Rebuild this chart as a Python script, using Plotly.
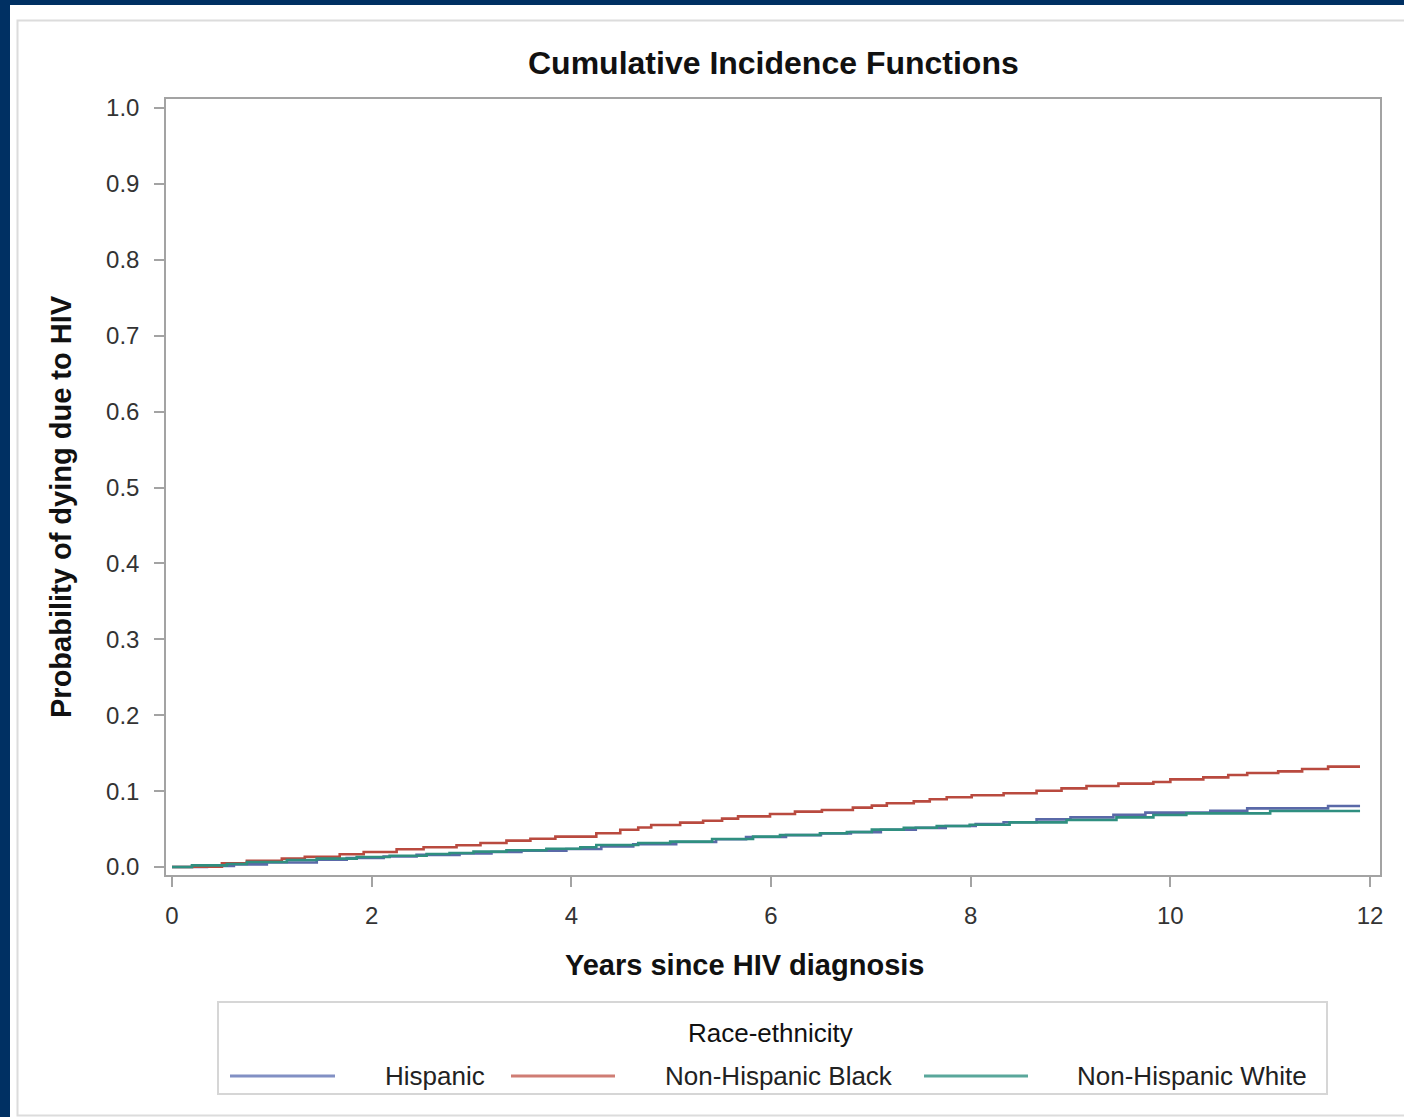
import plotly.graph_objects as go

# ---------------- data ----------------
group_names = ["Hispanic", "Non-Hispanic Black", "Non-Hispanic White"]

hisp_t = [0, 0.35, 0.62, 0.95, 1.45, 1.75, 2.12, 2.45, 2.88, 3.2, 3.5, 3.95, 4.3, 4.62, 5.05, 5.45, 5.75,
          6.15, 6.5, 6.8, 7.1, 7.45, 7.75, 8.05, 8.33, 8.66, 9.0, 9.43, 9.75, 10.4, 10.77, 11.58, 11.9]
hisp_v = [0, 0.0015, 0.0035, 0.006, 0.0095, 0.0118, 0.0138, 0.016, 0.018, 0.0198, 0.0215, 0.0238, 0.027,
          0.030, 0.033, 0.0365, 0.0395, 0.042, 0.0442, 0.046, 0.049, 0.0516, 0.054, 0.0565, 0.059, 0.0628,
          0.0654, 0.0689, 0.0716, 0.0742, 0.0773, 0.0804, 0.0804]

black_t = [0, 0.20, 0.50, 0.75, 1.10, 1.33, 1.68, 1.92, 2.25, 2.52, 2.85, 3.09, 3.35, 3.59, 3.84, 4.25,
           4.49, 4.67, 4.80, 5.09, 5.32, 5.51, 5.67, 5.99, 6.24, 6.51, 6.82, 7.01, 7.16, 7.43, 7.59, 7.76,
           8.01, 8.33, 8.66, 8.91, 9.16, 9.48, 9.83, 10.0, 10.33, 10.58, 10.77, 11.08, 11.32, 11.58, 11.9]
black_v = [0, 0.0005, 0.0048, 0.0083, 0.011, 0.0136, 0.0167, 0.0198, 0.0233, 0.026, 0.0286, 0.0316, 0.0347,
           0.0373, 0.040, 0.0445, 0.049, 0.052, 0.0553, 0.0584, 0.061, 0.0637, 0.0667, 0.0698, 0.0729,
           0.0751, 0.0782, 0.0808, 0.0839, 0.0865, 0.0892, 0.0918, 0.0945, 0.0971, 0.1005, 0.1036, 0.1067,
           0.1098, 0.112, 0.1155, 0.1181, 0.1212, 0.1238, 0.126, 0.1291, 0.1322, 0.1322]

white_t = [0, 0.20, 0.55, 0.75, 1.15, 1.45, 1.85, 2.18, 2.55, 2.78, 3.02, 3.35, 3.75, 4.09, 4.25, 4.67,
           4.99, 5.41, 5.82, 6.09, 6.49, 6.76, 7.01, 7.33, 7.66, 7.99, 8.39, 8.96, 9.46, 9.83, 10.16, 11.0, 11.9]
white_v = [0, 0.0022, 0.004, 0.0066, 0.0092, 0.011, 0.0132, 0.0149, 0.0171, 0.0184, 0.0202, 0.022, 0.0241,
           0.026, 0.029, 0.0316, 0.0334, 0.0369, 0.040, 0.0422, 0.0444, 0.0461, 0.0492, 0.0518, 0.054,
           0.0557, 0.0588, 0.0619, 0.0654, 0.0685, 0.0707, 0.0738, 0.0738]

x_ticks = [0, 2, 4, 6, 8, 10, 12]
y_ticks = [0.0, 0.1, 0.2, 0.3, 0.4, 0.5, 0.6, 0.7, 0.8, 0.9, 1.0]
y_tick_labels = ["0.0", "0.1", "0.2", "0.3", "0.4", "0.5", "0.6", "0.7", "0.8", "0.9", "1.0"]

colors = ["#5a69a8", "#b94a3f", "#2f8f80"]
legend_colors = ["#8290c4", "#cf7d74", "#5aa79b"]

# ---------------- figure ----------------
W, H = 1404, 1117
L, R, T, B = 166, 1380, 99, 875  # plot area in pixels
pw, ph = R - L, B - T

def px(x):
    return (x - L) / pw

def py(y):
    return (B - y) / ph

fig = go.Figure()
for name, t, v, c in zip(group_names, [hisp_t, black_t, white_t], [hisp_v, black_v, white_v], colors):
    fig.add_trace(go.Scatter(x=t, y=v, mode="lines", name=name, line=dict(color=c, width=2.6, shape="hv"),
                             showlegend=False))

font = "Liberation Sans, Arial, sans-serif"
axis_common = dict(showline=True, mirror=True, linecolor="#a3a3a3", linewidth=1.5, showgrid=False,
                   zeroline=False, ticks="outside", ticklen=10, tickcolor="#a3a3a3", tickwidth=1.5,
                   tickfont=dict(family=font, size=24, color="#333333"))

fig.update_layout(
    width=W, height=H,
    margin=dict(l=L, r=W - R, t=T, b=H - B, pad=0),
    paper_bgcolor="#003063",
    plot_bgcolor="white",
    xaxis=dict(range=[-0.0601, 12.10], tickvals=x_ticks, ticktext=[str(v) for v in x_ticks],
               ticklabelstandoff=8, **axis_common),
    yaxis=dict(range=[-0.01054, 1.01186], tickvals=y_ticks, ticktext=y_tick_labels,
               ticklabelstandoff=10, **axis_common),
    showlegend=False,
)

shapes = [
    # white page area
    dict(type="rect", xref="paper", yref="paper", x0=px(10), x1=px(1404), y0=py(1117), y1=py(5),
         fillcolor="white", line=dict(width=0), layer="below"),
    # outer light frame
    dict(type="rect", xref="paper", yref="paper", x0=px(17.5), x1=px(1420), y0=py(1115.5), y1=py(20.5),
         fillcolor="rgba(0,0,0,0)", line=dict(color="#dcdcdc", width=2), layer="below"),
    # legend box
    dict(type="rect", xref="paper", yref="paper", x0=px(218), x1=px(1327), y0=py(1094), y1=py(1002),
         fillcolor="white", line=dict(color="#d6d6d6", width=2), layer="below"),
]

annotations = [
    dict(text="<b>Cumulative Incidence Functions</b>", xref="paper", yref="paper", x=px(773), y=py(63),
         xanchor="center", yanchor="middle", showarrow=False,
         font=dict(family=font, size=32, color="#111111")),
    dict(text="<b>Years since HIV diagnosis</b>", xref="paper", yref="paper", x=px(744), y=py(965),
         xanchor="center", yanchor="middle", showarrow=False,
         font=dict(family=font, size=29, color="#111111")),
    dict(text="<b>Probability of dying due to HIV</b>", xref="paper", yref="paper", x=px(61), y=py(507),
         xanchor="center", yanchor="middle", showarrow=False, textangle=-90,
         font=dict(family=font, size=29, color="#111111")),
    dict(text="Race-ethnicity", xref="paper", yref="paper", x=px(770), y=py(1033),
         xanchor="center", yanchor="middle", showarrow=False,
         font=dict(family=font, size=26, color="#111111")),
]

legend_line_x = [(230, 335), (511, 615), (924, 1028)]
legend_text_x = [383, 663, 1075]
for name, c, (a, b), tx in zip(group_names, legend_colors, legend_line_x, legend_text_x):
    shapes.append(dict(type="line", xref="paper", yref="paper", x0=px(a), x1=px(b), y0=py(1076), y1=py(1076),
                       line=dict(color=c, width=3)))
    annotations.append(dict(text=name, xref="paper", yref="paper", x=px(tx), y=py(1076),
                            xanchor="left", yanchor="middle", showarrow=False,
                            font=dict(family=font, size=26, color="#222222")))

fig.update_layout(shapes=shapes, annotations=annotations)

fig.write_html("out.html", config={"displayModeBar": False},
               post_script="document.body.style.margin='0';document.body.style.overflow='hidden';")
